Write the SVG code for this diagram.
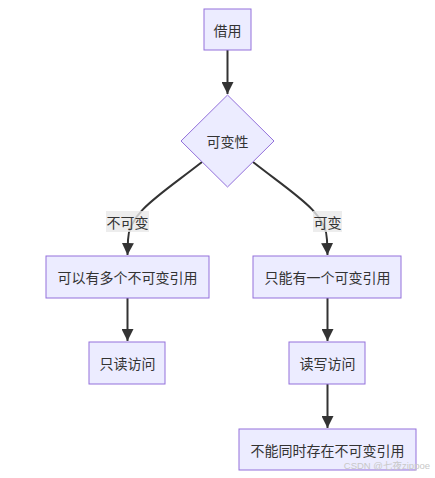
<svg xmlns="http://www.w3.org/2000/svg" width="435" height="478" viewBox="0 0 435 478">
<style>
.n{fill:#ECECFF;stroke:#9370DB;stroke-width:1}
.t{font-family:"Noto Sans CJK SC","Liberation Sans",sans-serif;font-size:14px;fill:#333;text-anchor:middle;dominant-baseline:central}
.e{fill:none;stroke:#333;stroke-width:2}
.lb{fill:#E8E8E8;opacity:0.8}
</style>
<defs>
<marker id="a" viewBox="0 0 10 10" refX="10" refY="5" markerWidth="6" markerHeight="6" markerUnits="strokeWidth" orient="auto">
<path d="M0,0 L10,5 L0,10 z" fill="#333"/>
</marker>
</defs>
<rect width="435" height="478" fill="#fff"/>
<g id="edges">
<path class="e" d="M227.5,50 L227.5,94" marker-end="url(#a)"/>
<path class="e" d="M202,162 C160,195 128,213 128,240 L127.5,255" marker-end="url(#a)"/>
<path class="e" d="M253,162 C295,195 327,213 327,240 L327.5,255" marker-end="url(#a)"/>
<path class="e" d="M127.5,298 L127.5,341" marker-end="url(#a)"/>
<path class="e" d="M327.5,298 L327.5,341" marker-end="url(#a)"/>
<path class="e" d="M327.5,384 L327.5,428" marker-end="url(#a)"/>
<g id="l1"><rect class="lb" x="106" y="211" width="43" height="21"/><text class="t" x="127.5" y="221.5">不可变</text></g>
<g id="l2"><rect class="lb" x="313" y="211" width="29" height="21"/><text class="t" x="327.5" y="221.5">可变</text></g>
</g>
<g id="n1"><rect class="n" x="204" y="9" width="47" height="41"/><text class="t" x="227.5" y="29.5">借用</text></g>
<g id="n2"><polygon class="n" points="227.5,95 274,141 227.5,187 181,141"/><text class="t" x="227.5" y="141">可变性</text></g>
<g id="n3"><rect class="n" x="46" y="256" width="163" height="42"/><text class="t" x="127.5" y="277">可以有多个不可变引用</text></g>
<g id="n4"><rect class="n" x="253" y="256" width="148" height="42"/><text class="t" x="327.5" y="277">只能有一个可变引用</text></g>
<g id="n5"><rect class="n" x="89" y="342" width="76" height="42"/><text class="t" x="127.5" y="363">只读访问</text></g>
<g id="n6"><rect class="n" x="289" y="342" width="76" height="42"/><text class="t" x="327.5" y="363">读写访问</text></g>
<g id="n7"><rect class="n" x="239" y="429" width="177" height="41"/><text class="t" x="327.5" y="449.5">不能同时存在不可变引用</text></g>
<text x="430" y="469" font-family="Liberation Sans,Noto Sans CJK SC,sans-serif" font-size="9.5" fill="#c8c8c8" text-anchor="end">CSDN @七夜zippoe</text>
</svg>
